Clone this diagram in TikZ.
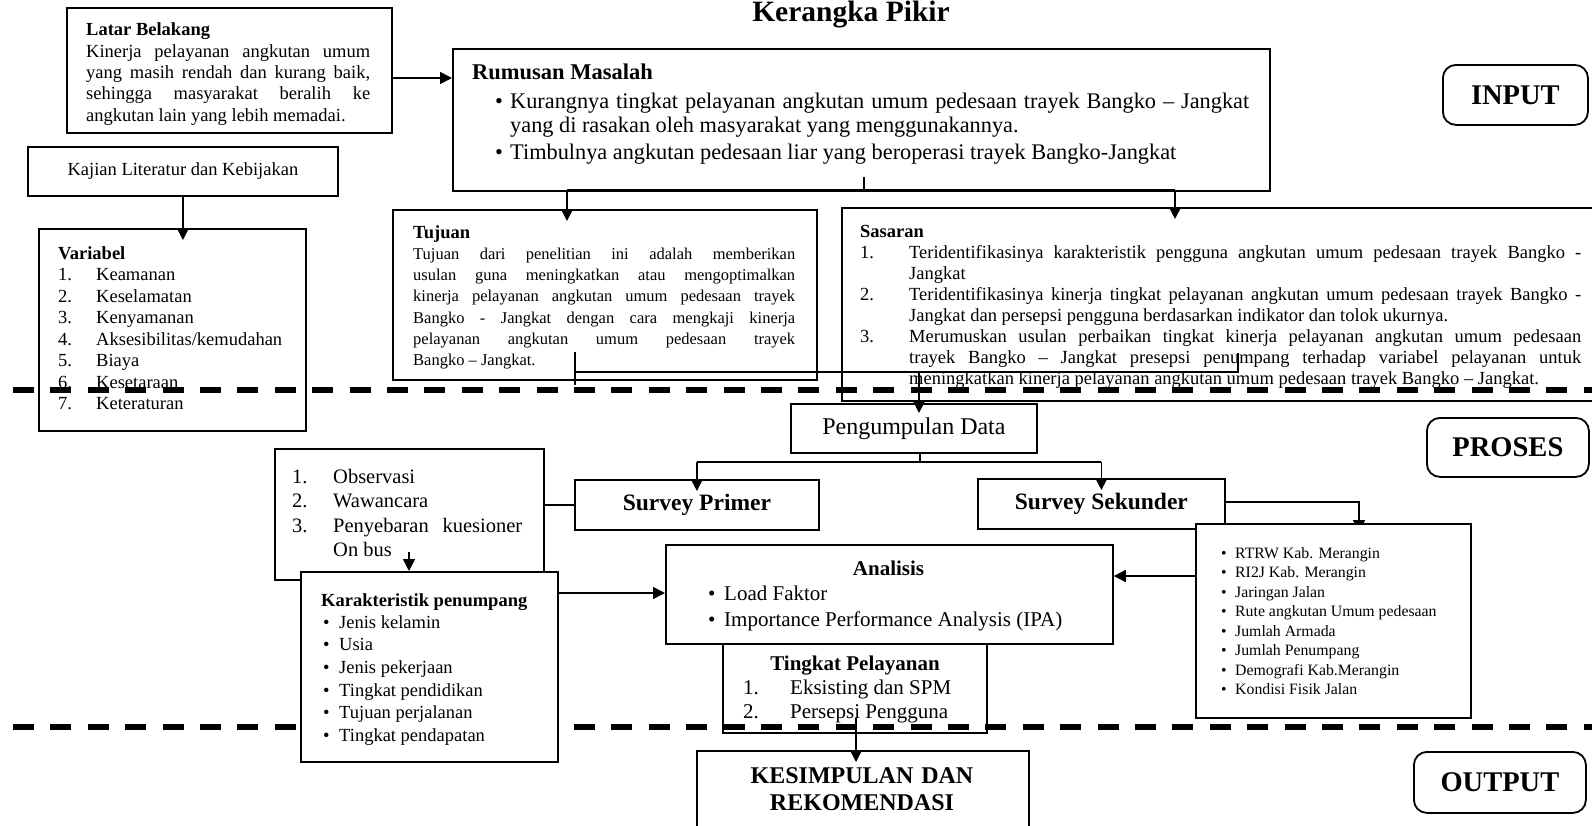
\documentclass[tikz,border=0pt]{standalone}
\usepackage{fontspec}
\setmainfont{Liberation Serif}
\usetikzlibrary{arrows.meta,backgrounds}

\newcommand{\fsz}[2]{\fontsize{#1pt}{#2pt}\selectfont}
\newcommand{\nomor}[2]{\par\hangindent=#1\hangafter=1\noindent\makebox[#1][l]{#2}}

\tikzset{
	box/.style={draw, line width=1.8pt, inner sep=0pt, anchor=north west},
	rbox/.style={box, rounded corners=13pt, font={\bfseries\fsz{28.5}{30}}},
	txt/.style={inner sep=0pt, anchor=base west},
	alinea/.style={inner sep=0pt, anchor=north west, align=justify},
	con/.style={line width=1.6pt},
	into/.style={con, ->, shorten >=-12pt},
	garis/.style={line width=5.5pt, dash pattern=on 21pt off 16.4pt},
	>={Triangle[length=12pt,width=12pt]}
}

\begin{document}
\begin{tikzpicture}[x=1pt,y=-1pt]
		\useasboundingbox (0,0) rectangle (1592,825);
		
		%judul
		\node[txt, anchor=base, font={\bfseries\fsz{29.5}{32}}] (judul) at (851,21) {Kerangka Pikir};
		
		%latar belakang
		\node[box, minimum width=325pt, minimum height=125pt] (latar) at (66,7) {};
		\begin{scope}
			\clip (latar.north west) rectangle ([shift={(0,-9)}]latar.south east);
			\node[alinea, text width=284pt, font={\fsz{18.5}{21.4}}] (latartxt) at (86,20.5) {\strut\textbf{Latar Belakang}\\ Kinerja pelayanan angkutan umum\linebreak yang masih rendah dan kurang baik,\linebreak sehingga masyarakat beralih ke\linebreak angkutan lain yang lebih memadai.\par};
		\end{scope}
		
		%kajian dan variabel
		\node[box, minimum width=310pt, minimum height=49pt, font={\fsz{18.5}{21}}] (kajian) at (27,146) {Kajian Literatur dan Kebijakan};
		\node[box, minimum width=267pt, minimum height=202pt] (variabel) at (38,228) {};
		\node[txt, font={\bfseries\fsz{18.5}{21}}] (varjudul) at (58,259) {Variabel};
		\foreach \t [count=\i] in {Keamanan,Keselamatan,Kenyamanan,Aksesibilitas/kemudahan,Biaya,Kesetaraan,Keteraturan}
			\node[txt, font={\fsz{18.5}{21}}] (var\i) at (58,{259+21.5*\i}) {\makebox[38pt][l]{\i.}\t};
		
		%rumusan masalah
		\node[box, minimum width=817pt, minimum height=142pt] (rumusan) at (452,48) {};
		\node[txt, font={\bfseries\fsz{22.5}{25}}] (rumjudul) at (472,79) {Rumusan Masalah};
		\node[txt, font={\fsz{22.3}{24.5}}] (rumb1) at (495,108) {•};
		\node[alinea, text width=739pt, font={\fsz{22.3}{24.5}}] (rum1) at (510,{108-17.15}) {\strut Kurangnya tingkat pelayanan angkutan umum pedesaan trayek Bangko – Jangkat\linebreak yang di rasakan oleh masyarakat yang menggunakannya.\par};
		\node[txt, font={\fsz{22.3}{24.5}}] (rumb2) at (495,159) {•};
		\node[txt, font={\fsz{22.3}{24.5}}] (rum2) at (510,159) {Timbulnya angkutan pedesaan liar yang beroperasi trayek Bangko-Jangkat};
		
		%tujuan
		\node[box, minimum width=424pt, minimum height=170pt] (tujuan) at (392,209) {};
		\node[alinea, text width=382pt, font={\fsz{16.5}{21.2}}] (tujuantxt) at (413,223.2) {\strut{\bfseries\fsz{18.5}{21.2}Tujuan}\\ Tujuan dari penelitian ini adalah memberikan\linebreak usulan guna meningkatkan atau mengoptimalkan\linebreak kinerja pelayanan angkutan umum pedesaan trayek\linebreak Bangko - Jangkat dengan cara mengkaji kinerja\linebreak pelayanan angkutan umum pedesaan trayek\linebreak Bangko – Jangkat.\par};
		
		%sasaran
		\node[box, minimum width=770pt, minimum height=193pt] (sasaran) at (841,207) {};
		\node[alinea, text width=721pt, font={\fsz{18.5}{21}}] (sasarantxt) at (860,{237-14.7}) {\strut\textbf{Sasaran}%
			\nomor{49pt}{1.}Teridentifikasinya karakteristik pengguna angkutan umum pedesaan trayek Bangko -\linebreak Jangkat%
			\nomor{49pt}{2.}Teridentifikasinya kinerja tingkat pelayanan angkutan umum pedesaan trayek Bangko -\linebreak Jangkat dan persepsi pengguna berdasarkan indikator dan tolok ukurnya.%
			\nomor{49pt}{3.}Merumuskan usulan perbaikan tingkat kinerja pelayanan angkutan umum pedesaan\linebreak trayek Bangko – Jangkat presepsi penumpang terhadap variabel pelayanan untuk\linebreak meningkatkan kinerja pelayanan angkutan umum pedesaan trayek Bangko – Jangkat.\par};
		
		\node[rbox, minimum width=145pt, minimum height=60pt] (input) at (1442,64) {INPUT};
		
		%panah input
		\coordinate (lr) at (0,78);
		\draw[con,->] (latar.east |- lr) -- (rumusan.west |- lr);
		\draw[into] (kajian.south) -- (kajian.south |- variabel.north);
		\coordinate (rm) at (864,177);
		\coordinate (rt) at (567,190);
		\coordinate (rs) at (1175,190);
		\draw[con] (rm) -- (rm |- rumusan.south);
		\draw[con] (rt) -- (rs);
		\draw[into] (rt) -- (rt |- tujuan.north);
		\draw[into] (rs) -- (rs |- sasaran.north);
		\coordinate (tj) at (575,352);
		\coordinate (ss) at (1238,353);
		\coordinate (hz) at (0,372);
		\coordinate (pd) at (919,372);
		\draw[con] (tj) -- ++(0,33);
		\draw[con] (ss) -- (ss |- hz) -- (tj |- hz);
		
		%proses
		\node[box, minimum width=246pt, minimum height=49pt, font={\fsz{24}{26}}] (pengumpulan) at (790,403) {Pengumpulan Data};
		\draw[into, shorten >=-10pt] (pd) -- (pd |- pengumpulan.north);
		\node[box, minimum width=269pt, minimum height=131pt] (observasi) at (274,448) {};
		\foreach \t [count=\i] in {Observasi,Wawancara,{\makebox[189pt][s]{Penyebaran kuesioner}}}
			\node[txt, font={\fsz{20.5}{24.5}}] (obs\i) at (292,{458.5+24.5*\i}) {\makebox[41pt][l]{\i.}\t};
		\node[txt, font={\fsz{20.5}{24.5}}] (onbus) at (333,556.5) {On bus};
		\node[box, minimum width=244pt, minimum height=50pt, font={\bfseries\fsz{23.5}{26}}] (primer) at (574,479) {Survey Primer};
		\node[box, minimum width=247pt, minimum height=50pt, font={\bfseries\fsz{23.5}{26}}] (sekunder) at (977,478) {Survey Sekunder};
		
		\node[box, minimum width=264pt, minimum height=89pt] (tingkat) at (722,643) {};
		\node[txt, anchor=base, font={\bfseries\fsz{21}{24}}] (tkjudul) at (855,670) {Tingkat Pelayanan};
		\foreach \t [count=\i] in {Eksisting dan SPM,Persepsi Pengguna}
			\node[txt, font={\fsz{21}{24}}] (tk\i) at (743,{670+24*\i}) {\makebox[47pt][l]{\i.}\t};
		
		\node[box, minimum width=447pt, minimum height=99pt] (analisis) at (665,544) {};
		\node[txt, anchor=base, font={\bfseries\fsz{21}{25}}] (anjudul) at (888.5,575) {Analisis};
		\foreach \t [count=\i] in {Load Faktor,Importance Performance Analysis (IPA)}
			\node[txt, font={\fsz{21}{25}}] (an\i) at (708,{575+25.5*\i}) {\makebox[16pt][l]{•}\t};
		
		\node[box, minimum width=332pt, minimum height=95pt] (kesimpulan) at (696,750) {};
		\node[alinea, anchor=north, align=center, text width=320pt, font={\bfseries\fsz{24}{27}}] (kestxt) at (862,{783-18.9}) {\strut KESIMPULAN DAN\\REKOMENDASI};
		
		\node[rbox, minimum width=162pt, minimum height=59pt] (proses) at (1426,417) {PROSES};
		\node[rbox, minimum width=172pt, minimum height=61pt] (output) at (1413,751) {OUTPUT};
		
		%data sekunder
		\node[box, fill=white, minimum width=275pt, minimum height=194pt] (sumber) at (1195,523) {};
		\foreach \t [count=\i] in {RTRW Kab. Merangin,RI2J Kab. Merangin,Jaringan Jalan,Rute angkutan Umum pedesaan,Jumlah Armada,Jumlah Penumpang,Demografi Kab.Merangin,Kondisi Fisik Jalan}
			\node[txt, font={\fsz{15.8}{19.5}}] (sb\i) at (1221,{538.5+19.5*\i}) {\makebox[14pt][l]{•}\t};
		
		%karakteristik
		\node[box, fill=white, minimum width=257pt, minimum height=190pt] (karakteristik) at (300,571) {};
		\node[txt, font={\bfseries\fsz{18.5}{21}}] (krjudul) at (321,606) {Karakteristik penumpang};
		\foreach \t [count=\i] in {Jenis kelamin,Usia,Jenis pekerjaan,Tingkat pendidikan,Tujuan perjalanan,Tingkat pendapatan}
			\node[txt, font={\fsz{18.5}{21}}] (kr\i) at (323,{605.3+22.7*\i}) {\makebox[16pt][l]{•}\t};
		
		%panah proses
		\coordinate (pg) at (920,462);
		\draw[con] (pg |- pengumpulan.south) -- (pg);
		\draw[con] (pg -| primer.north) -- (pg -| sekunder.north);
		\draw[into] (pg -| primer.north) -- (primer.north);
		\draw[into] (pg -| sekunder.north) -- (sekunder.north);
		\draw[con] (observasi.east |- primer.west) -- (primer.west);
		\coordinate (ob) at (409,552);
		\draw[con,->] (ob) -- (ob |- karakteristik.north);
		\coordinate (ka) at (0,593);
		\draw[con,->] (karakteristik.east |- ka) -- (analisis.west |- ka);
		\coordinate (sa) at (0,576);
		\draw[con,->] (sumber.west |- sa) -- (analisis.east |- sa);
		\coordinate (tk) at (856,718);
		\draw[into] (tk) -- (tk |- kesimpulan.north);
		
		%garis putus dan panah di belakang
		\begin{scope}[on background layer]
			\coordinate (g1) at (13,390);
			\coordinate (g2) at (13,727);
			\draw[garis] (g1) -- +(1590,0);
			\draw[garis] (g2) -- +(1590,0);
			\coordinate (sk) at (0,502);
			\coordinate (sx) at (1359,0);
			\draw[into, shorten >=-9pt] (sekunder.east |- sk) -- (sx |- sk) -- (sx |- sumber.north);
		\end{scope}
		
\end{tikzpicture}
\end{document}
